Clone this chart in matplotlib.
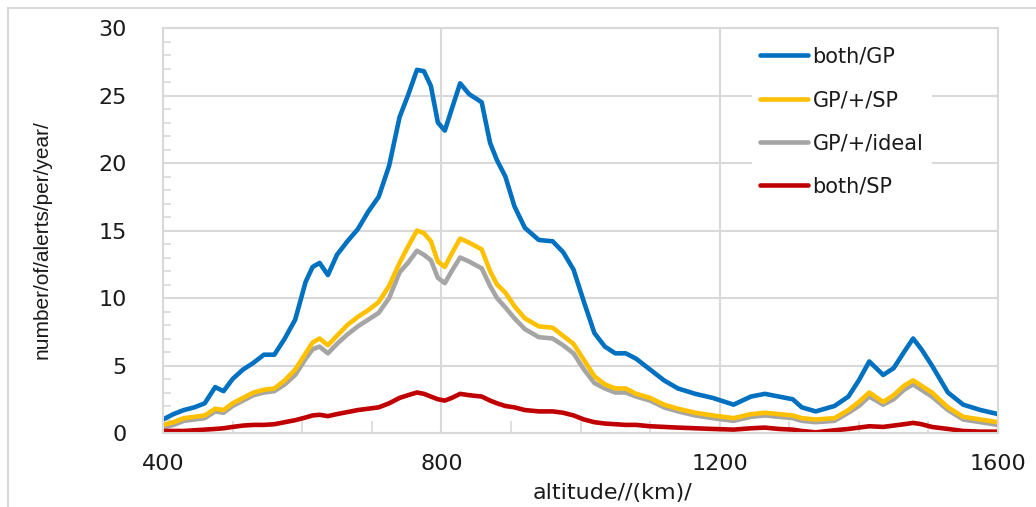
import matplotlib
matplotlib.use("Agg")
import matplotlib.pyplot as plt
from matplotlib.lines import Line2D
from matplotlib.ticker import MultipleLocator

# altitude grid (km)
altitude = [400, 415, 430, 445, 460, 475, 487, 500, 515, 530, 545, 560, 575, 590,
            605, 615, 625, 637, 650, 665, 680, 695, 710, 725, 740, 752, 765, 775,
            785, 795, 805, 815, 827, 840, 858, 870, 880, 892, 905, 920, 940, 960,
            975, 990, 1005, 1020, 1035, 1050, 1065, 1080, 1100, 1120, 1140, 1165,
            1190, 1220, 1245, 1265, 1285, 1305, 1318, 1338, 1365, 1385, 1400, 1415,
            1435, 1450, 1465, 1478, 1490, 1505, 1528, 1550, 1575, 1600]

both_gp = [1.0, 1.4, 1.7, 1.9, 2.2, 3.4, 3.1, 4.0, 4.7, 5.2, 5.8, 5.8, 7.0, 8.4,
           11.2, 12.3, 12.6, 11.7, 13.2, 14.2, 15.1, 16.4, 17.5, 19.8, 23.4, 25.0, 26.9, 26.8,
           25.7, 23.0, 22.4, 24.0, 25.9, 25.1, 24.5, 21.5, 20.2, 19.0, 16.8, 15.2, 14.3, 14.2,
           13.4, 12.1, 9.7, 7.4, 6.4, 5.9, 5.9, 5.5, 4.7, 3.9, 3.3, 2.9,
           2.6, 2.1, 2.7, 2.9, 2.7, 2.5, 1.9, 1.6, 2.0, 2.7, 3.9, 5.3,
           4.3, 4.8, 6.0, 7.0, 6.2, 5.0, 3.0, 2.1, 1.7, 1.4]

gp_sp = [0.6, 0.8, 1.1, 1.2, 1.3, 1.8, 1.7, 2.2, 2.6, 3.0, 3.2, 3.3, 3.9, 4.7,
         5.9, 6.7, 7.0, 6.5, 7.2, 8.0, 8.6, 9.1, 9.7, 10.9, 12.6, 13.8, 15.0, 14.8,
         14.2, 12.7, 12.3, 13.3, 14.4, 14.1, 13.6, 12.0, 11.0, 10.4, 9.4, 8.5, 7.9, 7.8,
         7.2, 6.6, 5.4, 4.2, 3.6, 3.3, 3.3, 2.9, 2.6, 2.1, 1.8, 1.5,
         1.3, 1.1, 1.4, 1.5, 1.4, 1.3, 1.1, 1.0, 1.1, 1.7, 2.3, 3.0,
         2.3, 2.8, 3.5, 3.9, 3.5, 3.0, 1.9, 1.2, 1.0, 0.8]

gp_ideal = [0.4, 0.6, 0.9, 1.0, 1.1, 1.6, 1.5, 2.0, 2.4, 2.8, 3.0, 3.1, 3.6, 4.3,
            5.5, 6.2, 6.4, 5.9, 6.6, 7.3, 7.9, 8.4, 8.9, 10.0, 11.9, 12.6, 13.5, 13.2,
            12.8, 11.5, 11.1, 12.0, 13.0, 12.7, 12.2, 10.9, 10.0, 9.3, 8.5, 7.7, 7.1, 7.0,
            6.5, 5.9, 4.7, 3.7, 3.3, 3.0, 3.0, 2.7, 2.4, 1.9, 1.6, 1.3,
            1.1, 0.9, 1.2, 1.3, 1.2, 1.1, 0.9, 0.8, 0.9, 1.5, 2.0, 2.7,
            2.1, 2.5, 3.2, 3.6, 3.2, 2.7, 1.7, 1.0, 0.8, 0.6]

both_sp = [0.15, 0.15, 0.15, 0.2, 0.25, 0.3, 0.35, 0.45, 0.55, 0.6, 0.6, 0.65, 0.8, 0.95,
           1.15, 1.3, 1.35, 1.25, 1.4, 1.55, 1.7, 1.8, 1.9, 2.2, 2.6, 2.8, 3.0, 2.9,
           2.7, 2.5, 2.4, 2.6, 2.9, 2.8, 2.7, 2.4, 2.2, 2.0, 1.9, 1.7, 1.6, 1.6,
           1.5, 1.3, 1.0, 0.8, 0.7, 0.65, 0.6, 0.6, 0.5, 0.45, 0.4, 0.35,
           0.3, 0.25, 0.35, 0.4, 0.3, 0.25, 0.15, 0.05, 0.2, 0.3, 0.4, 0.5,
           0.45, 0.55, 0.65, 0.75, 0.65, 0.45, 0.3, 0.15, 0.1, 0.1]

series = [("both/GP", both_gp, "#0070C0"),
          ("GP/+/SP", gp_sp, "#FFC000"),
          ("GP/+/ideal", gp_ideal, "#A5A5A5"),
          ("both/SP", both_sp, "#C00000")]

grid_col = "#D9D9D9"
text_col = "#1a1a1a"

fig = plt.figure(figsize=(10.36, 5.07), dpi=100)
ax = fig.add_axes([163 / 1036, 1 - 433 / 507, (998 - 163) / 1036, (433 - 28) / 507])

# grey drawn before yellow so yellow sits on top like the original
for name, vals, col in [series[0], series[2], series[1], series[3]]:
    ax.plot(altitude, vals, color=col, lw=3.3, label=name, solid_capstyle="round")

ax.set_xlim(400, 1600)
ax.set_ylim(0, 30)
ax.xaxis.set_major_locator(MultipleLocator(400))
ax.xaxis.set_minor_locator(MultipleLocator(100))
ax.yaxis.set_major_locator(MultipleLocator(5))
ax.yaxis.set_minor_locator(MultipleLocator(1))
ax.grid(True, which="major", color=grid_col, lw=1.5)
ax.set_axisbelow(True)

for s in ax.spines.values():
    s.set_color(grid_col)
    s.set_linewidth(1.5)

ax.tick_params(axis="both", which="both", direction="in", color=grid_col, width=1.2)
ax.tick_params(axis="y", which="major", length=0, pad=26, labelsize=16)
ax.tick_params(axis="y", which="minor", length=6)
ax.tick_params(axis="x", which="major", length=0, pad=15, labelsize=16)
ax.tick_params(axis="x", which="minor", length=9)
for lab in ax.get_xticklabels() + ax.get_yticklabels():
    lab.set_color(text_col)

# legend in original order
handles, labels = ax.get_legend_handles_labels()
order = [labels.index(n) for n, _, _ in series]
leg = ax.legend([handles[i] for i in order], [labels[i] for i in order],
                loc="upper left", bbox_to_anchor=(0.693, 1.0), fontsize=15,
                frameon=True, facecolor="white", edgecolor="none", framealpha=1,
                handlelength=2.3, handletextpad=0.2, labelspacing=1.12,
                borderpad=0.4, fancybox=False)
for t in leg.get_texts():
    t.set_color(text_col)

fig.text(612 / 1036, 1 - 493 / 507, "altitude//(km)/", ha="center", va="center",
         fontsize=16, color=text_col)
fig.text(42 / 1036, 1 - 240 / 507, "number/of/alerts/per/year/", rotation=90,
         ha="center", va="center", fontsize=15, color=text_col,
         family=["Liberation Sans Narrow", "DejaVu Sans Condensed", "Liberation Sans"])

# outer page frame
fig.add_artist(Line2D([8 / 1036, 8 / 1036], [0, 1 - 8 / 507], color=grid_col, lw=1.5))
fig.add_artist(Line2D([8 / 1036, 1], [1 - 8 / 507, 1 - 8 / 507], color=grid_col, lw=1.5))

fig.savefig("out.png", dpi=100)
